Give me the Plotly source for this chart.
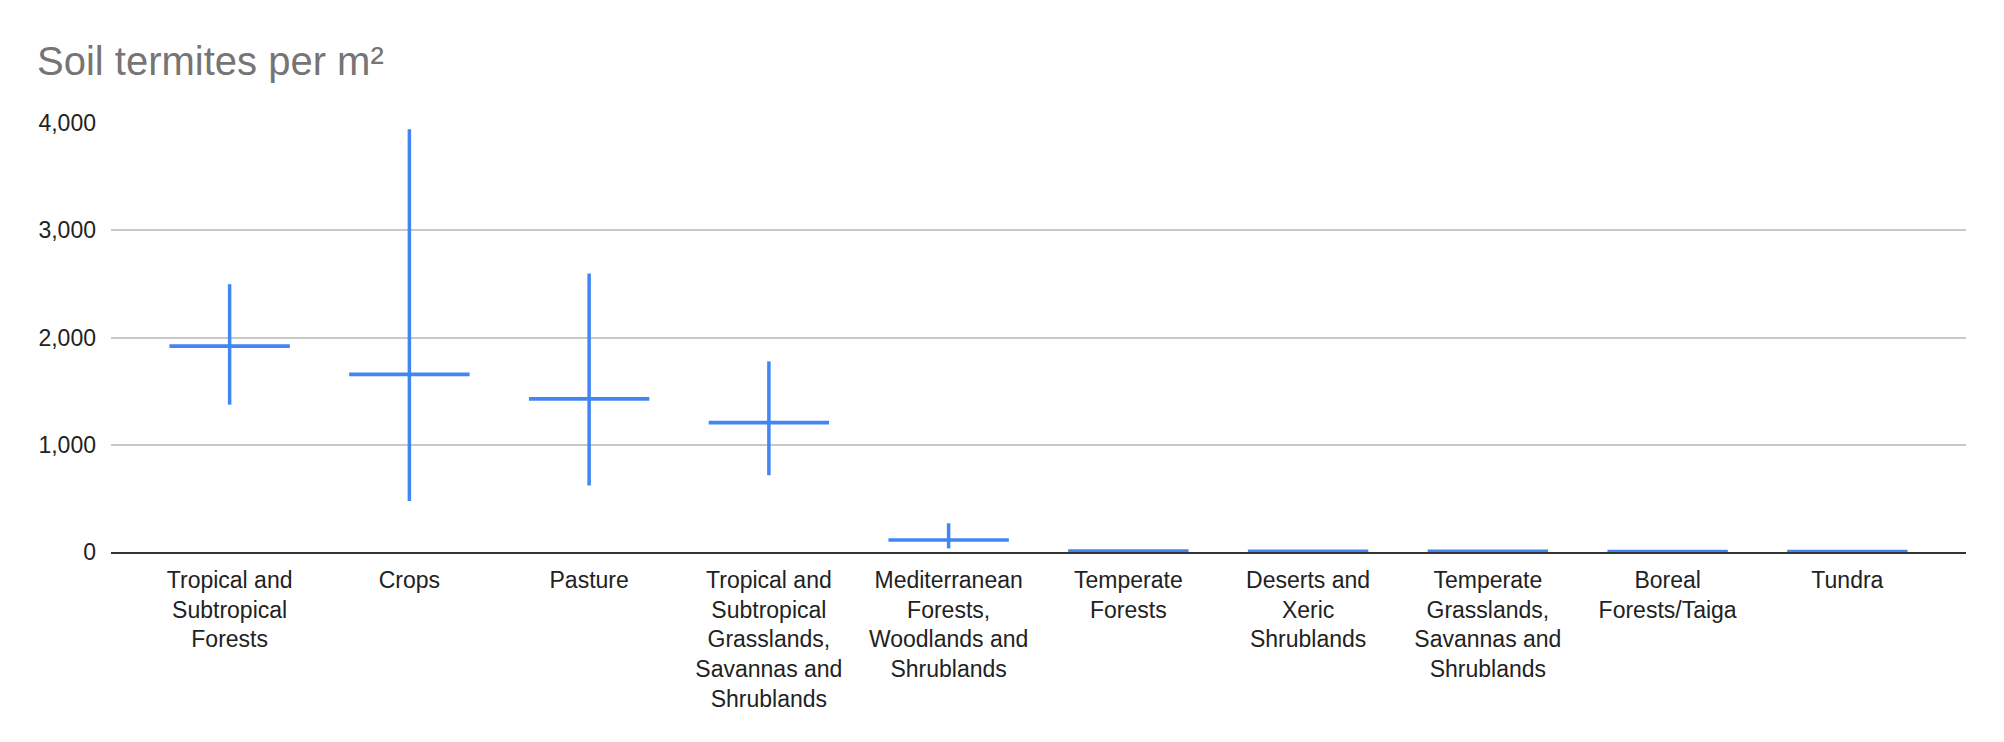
import plotly.graph_objects as go

categories = [
    "Tropical and<br>Subtropical<br>Forests",
    "Crops",
    "Pasture",
    "Tropical and<br>Subtropical<br>Grasslands,<br>Savannas and<br>Shrublands",
    "Mediterranean<br>Forests,<br>Woodlands and<br>Shrublands",
    "Temperate<br>Forests",
    "Deserts and<br>Xeric<br>Shrublands",
    "Temperate<br>Grasslands,<br>Savannas and<br>Shrublands",
    "Boreal<br>Forests/Taiga",
    "Tundra",
]
mean_values = [1920, 1657, 1428, 1207, 112, 9, 6, 6, 4, 4]
high_values = [2497, 3942, 2596, 1777, 268, 9, 6, 6, 4, 4]
low_values = [1374, 476, 620, 716, 34, 9, 6, 6, 4, 4]
y_tick_values = [0, 1000, 2000, 3000, 4000]
y_tick_labels = ["0", "1,000", "2,000", "3,000", "4,000"]

BLUE = "#4285F4"

err_plus = [h - m for h, m in zip(high_values, mean_values)]
err_minus = [m - l for m, l in zip(mean_values, low_values)]

fig = go.Figure()
fig.add_trace(go.Scatter(
    x=categories,
    y=mean_values,
    mode="markers",
    marker=dict(symbol="line-ew", size=86, color=BLUE,
                line=dict(color=BLUE, width=3.7)),
    error_y=dict(type="data", symmetric=False, array=err_plus,
                 arrayminus=err_minus, color=BLUE, thickness=3.5, width=0),
    cliponaxis=False,
    showlegend=False,
    hoverinfo="x+y",
))

W, H = 1996, 734  # page body has an 8px margin in the browser

fig.update_layout(
    width=W,
    height=H,
    margin=dict(l=103, r=38, t=115, b=190),
    paper_bgcolor="white",
    plot_bgcolor="white",
    font=dict(family="Liberation Sans, Arial, sans-serif", size=23, color="#222222"),
    title=dict(
        text="Soil termites per m²",
        x=29 / W, xref="container", xanchor="left",
        y=1 - 53 / H, yref="container", yanchor="middle",
        font=dict(family="Liberation Sans, Arial, sans-serif", size=40, color="#757575"),
    ),
    xaxis=dict(
        type="category",
        range=[-0.66, 9.66],
        showgrid=False,
        showline=True,
        linecolor="#333333",
        linewidth=2,
        ticks="",
        tickfont=dict(size=23, color="#222222"),
        ticklabelstandoff=6,
        zeroline=False,
        fixedrange=True,
    ),
    yaxis=dict(
        range=[0, 4000],
        tickvals=y_tick_values,
        ticktext=y_tick_labels,
        showgrid=True,
        gridcolor="#c8c8c8",
        gridwidth=1.5,
        zeroline=False,
        showline=False,
        ticks="",
        tickfont=dict(size=23, color="#222222"),
        ticklabelstandoff=14,
        fixedrange=True,
    ),
)

fig.write_html("out.html")
